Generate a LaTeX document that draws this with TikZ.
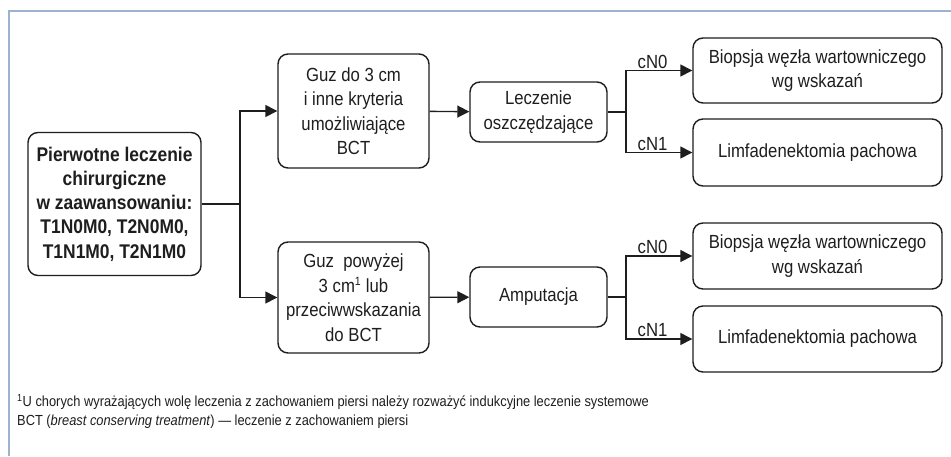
\documentclass[tikz,border=0pt]{standalone}
\usepackage{fontspec}
\setmainfont{Liberation Sans}[FakeStretch=0.88]
\usetikzlibrary{arrows.meta}
\definecolor{framecol}{HTML}{9DB2CE}
\definecolor{ink}{HTML}{1E1E1E}
\tikzset{
  box/.style={draw=ink, line width=1.4pt, rounded corners=10pt, inner sep=0pt,
              align=center, font=\fontsize{19}{24.5}\selectfont, text=ink},
  conn/.style={draw=ink, line width=1.4pt},
  arr/.style={conn, -{Triangle[length=12pt,width=12pt]}},
  lbl/.style={font=\fontsize{19}{22}\selectfont, text=ink, inner sep=1.5pt}
}
\begin{document}
\begin{tikzpicture}[x=1pt,y=-1pt]
\useasboundingbox (0,0) rectangle (951,456);
\fill[white] (0,0) rectangle (951,456);
% outer frame, open to the right and bottom
\draw[framecol, line width=1.2pt] (9,456) -- (9,11) -- (951,11);

% boxes
\node[box, minimum width=173pt, minimum height=143pt, font=\bfseries\fontsize{19.8}{24.3}\selectfont]
  (start) at (114.5,204) {Pierwotne leczenie\\chirurgiczne\\w zaawansowaniu:\\T1N0M0, T2N0M0,\\T1N1M0, T2N1M0};
\node[box, minimum width=151pt, minimum height=114pt] (small) at (353.5,111)
  {Guz do 3 cm\\i inne kryteria\\umożliwiające\\BCT};
\node[box, minimum width=151pt, minimum height=111pt] (large) at (353.5,297.5)
  {Guz\ \ powyżej\\3 cm\textsuperscript{\fontsize{12}{12}\selectfont 1} lub\\przeciwwskazania\\do BCT};
\node[box, minimum width=137pt, minimum height=60pt] (bct) at (538.5,112)
  {Leczenie\\oszczędzające};
\node[box, minimum width=137pt, minimum height=60pt] (amp) at (538.5,297)
  {Amputacja};
\node[box, minimum width=249pt, minimum height=65pt] (bio1) at (817.5,70.5)
  {Biopsja węzła wartowniczego\\wg wskazań};
\node[box, minimum width=249pt, minimum height=67pt] (lim1) at (817.5,152.5)
  {Limfadenektomia pachowa};
\node[box, minimum width=249pt, minimum height=66pt] (bio2) at (817.5,256)
  {Biopsja węzła wartowniczego\\wg wskazań};
\node[box, minimum width=249pt, minimum height=66pt] (lim2) at (817.5,339)
  {Limfadenektomia pachowa};

% branch points
\coordinate (s0) at (240,204);
\coordinate (s1) at (626,112);
\coordinate (s2) at (626,297);

% connectors
\draw[conn] (start.east) -- (s0);
\draw[arr] (s0) |- (small.west);
\draw[arr] (s0) |- (large.west);
\draw[arr] (small) -- (bct);
\draw[arr] (large) -- (amp);
\draw[conn] (bct.east) -- (s1);
\draw[arr] (s1) |- node[lbl, above, pos=0.7] {cN0} (bio1.west);
\draw[arr] (s1) |- node[lbl, above, pos=0.7] {cN1} (lim1.west);
\draw[conn] (amp.east) -- (s2);
\draw[arr] (s2) |- node[lbl, above, pos=0.7] {cN0} (bio2.west);
\draw[arr] (s2) |- node[lbl, above, pos=0.7] {cN1} (lim2.west);

% footnote
\node[anchor=north west, align=left, inner sep=0pt, text=ink,
      font=\fontsize{14.6}{19.5}\selectfont] (note) at (17,394)
  {\textsuperscript{1}U chorych wyrażających wolę leczenia z zachowaniem piersi należy rozważyć indukcyjne leczenie systemowe\\
   BCT (\textit{breast conserving treatment}) — leczenie z zachowaniem piersi};
\end{tikzpicture}
\end{document}
